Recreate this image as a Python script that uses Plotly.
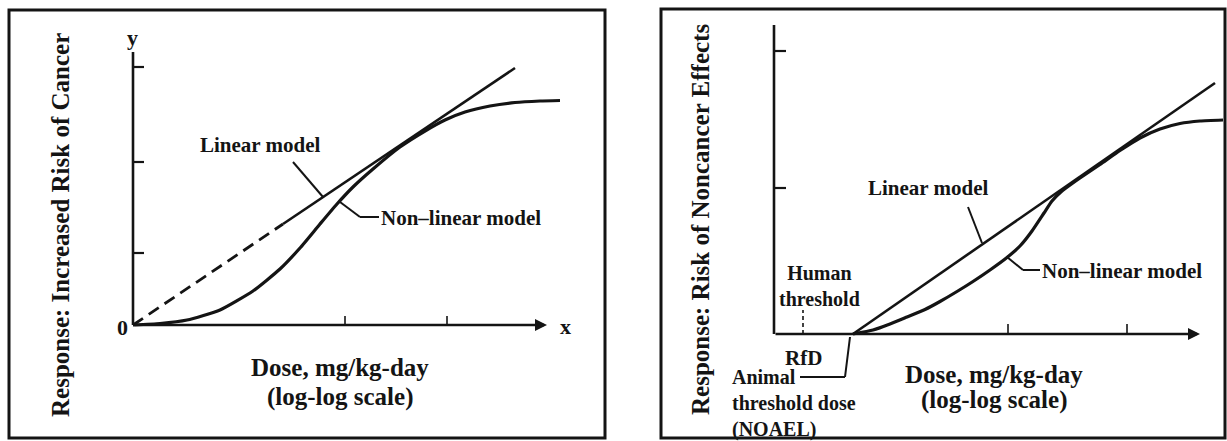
import plotly.graph_objects as go

W, H = 1227, 441

# ---------------- data (schematic units) ----------------
# Left panel: cancer (non-threshold) dose-response
c_lin_dash_x = [0.00, 1.50]
c_lin_dash_y = [0.00, 1.01]
c_lin_solid_x = [1.50, 3.82]
c_lin_solid_y = [1.01, 2.57]
c_nonlin_x = [0.00, 0.27, 0.54, 0.87, 1.20, 1.47, 1.67, 1.87, 2.04, 2.20,
              2.40, 2.67, 2.92, 3.12, 3.32, 3.57, 3.82, 4.07, 4.27]
c_nonlin_y = [0.000, 0.015, 0.05, 0.15, 0.34, 0.56, 0.77, 1.01, 1.21, 1.38,
              1.56, 1.78, 1.94, 2.05, 2.13, 2.19, 2.225, 2.24, 2.245]
c_ytick_vals = [0.72, 1.63, 2.58]
c_xtick_vals = [2.12, 3.14]
c_yaxis_top = 2.73
c_xaxis_end = 4.14

# Right panel: noncancer (threshold) dose-response
n_lin_x = [0.79, 4.41]
n_lin_y = [0.00, 2.51]
n_nonlin_x = [0.79, 0.99, 1.16, 1.33, 1.51, 1.66, 1.83, 1.99, 2.16, 2.33, 2.46, 2.58,
              2.70, 2.78, 2.88, 3.06, 3.26, 3.46, 3.66, 3.86, 4.06, 4.26, 4.49]
n_nonlin_y = [0.00, 0.04, 0.10, 0.17, 0.245, 0.325, 0.425, 0.525, 0.64, 0.765, 0.88, 1.03,
              1.21, 1.33, 1.43, 1.56, 1.695, 1.835, 1.96, 2.05, 2.105, 2.13, 2.14]
n_ytick_vals = [1.46, 2.83]
n_xtick_vals = [2.34, 3.53]
n_rfd_x = 0.29
n_noael_x = 0.79
n_yaxis_top = 3.09
n_xaxis_end = 4.26

# texts
c_ytitle = "Response: Increased Risk of Cancer"
n_ytitle = "Response: Risk of Noncancer Effects"
xtitle_1 = "Dose, mg/kg-day"
xtitle_2 = "(log-log scale)"
lin_label = "Linear model"
nonlin_label = "Non\u2013linear model"
human_label = "Human<br>threshold"
rfd_label = "RfD"
animal_label = "Animal<br>threshold dose<br>(NOAEL)"

# ---------------- layout helpers ----------------
INK = "#141414"
FONT = "Liberation Serif"
UNIT = 100.0  # pixels per schematic unit


def axes_for(ox, oy, left, right, top, bottom):
    xa = dict(domain=[left / W, right / W],
              range=[(left - ox) / UNIT, (right - ox) / UNIT],
              visible=False, fixedrange=True)
    ya = dict(domain=[1 - bottom / H, 1 - top / H],
              range=[(oy - bottom) / UNIT, (oy - top) / UNIT],
              visible=False, fixedrange=True)
    return xa, ya


xa1, ya1 = axes_for(133, 325, 12, 603, 12, 436)
xa2, ya2 = axes_for(774, 334, 664, 1224, 11, 436)
ya1["anchor"] = "x"
xa1["anchor"] = "y"
ya2["anchor"] = "x2"
xa2["anchor"] = "y2"

fig = go.Figure()


def line(x, y, xa, ya, w=3.0, dash=None, spline=False):
    ln = dict(color=INK, width=w, dash=dash)
    if spline:
        ln.update(shape="spline", smoothing=0.5)
    fig.add_trace(go.Scatter(x=x, y=y, mode="lines", xaxis=xa, yaxis=ya, line=ln,
                             hoverinfo="skip", showlegend=False))


# left panel curves
line(c_lin_dash_x, c_lin_dash_y, "x", "y", 2.8, "12px,7px")
line(c_lin_solid_x, c_lin_solid_y, "x", "y", 2.6)
line(c_nonlin_x, c_nonlin_y, "x", "y", 3.2, spline=True)
# right panel curves
line(n_lin_x, n_lin_y, "x2", "y2", 2.6)
line(n_nonlin_x, n_nonlin_y, "x2", "y2", 3.2, spline=True)

shapes = []
annotations = []


def seg(xr, yr, x0, y0, x1, y1, w=2.5, dash=None):
    shapes.append(dict(type="line", xref=xr, yref=yr, x0=x0, y0=y0, x1=x1, y1=y1,
                       line=dict(color=INK, width=w, dash=dash)))


def text(xr, yr, x, y, s, size, xanchor="center", angle=0, align="center"):
    annotations.append(dict(xref=xr, yref=yr, x=x, y=y, text=s, showarrow=False,
                            xanchor=xanchor, yanchor="middle", textangle=angle, align=align,
                            font=dict(family=FONT, size=size, color=INK, weight="bold")))


def arrow_axis(xr, yr, x_end):
    annotations.append(dict(xref=xr, yref=yr, axref=xr, ayref=yr, x=x_end, y=0, ax=0, ay=0,
                            text="", showarrow=True, arrowhead=2, arrowsize=1.0,
                            arrowwidth=2.4, arrowcolor=INK))


# ---- left panel axes ----
seg("x", "y", 0, 0, 0, c_yaxis_top, 2.6)
arrow_axis("x", "y", c_xaxis_end)
for v in c_ytick_vals:
    seg("x", "y", 0, v, 0.11, v, 2.2)
for v in c_xtick_vals:
    seg("x", "y", v, 0, v, 0.09, 1.6)
text("x", "y", -0.11, -0.02, "0", 22)
text("x", "y", 4.32, -0.01, "x", 22)
text("x", "y", -0.01, 2.88, "y", 22)
text("x", "y", -0.73, 1.00, c_ytitle, 25, angle=-90)
text("x", "y", 2.07, -0.42, xtitle_1, 25)
text("x", "y", 2.07, -0.72, xtitle_2, 25)
text("x", "y", 1.27, 1.80, lin_label, 21)
seg("x", "y", 1.60, 1.63, 1.90, 1.28, 2.0)
text("x", "y", 2.46, 1.07, nonlin_label, 21, xanchor="left")
seg("x", "y", 2.07, 1.23, 2.27, 1.08, 2.0)
seg("x", "y", 2.27, 1.08, 2.46, 1.08, 2.0)

# ---- right panel axes ----
seg("x2", "y2", 0, 0, 0, n_yaxis_top, 2.6)
arrow_axis("x2", "y2", n_xaxis_end)
for v in n_ytick_vals:
    seg("x2", "y2", 0, v, 0.12, v, 2.2)
for v in n_xtick_vals:
    seg("x2", "y2", v, 0, v, 0.10, 1.6)
seg("x2", "y2", n_rfd_x, 0.0, n_rfd_x, 0.24, 1.6, "4px,3px")
text("x2", "y2", -0.74, 1.14, n_ytitle, 25, angle=-90)
text("x2", "y2", 2.20, -0.40, xtitle_1, 25)
text("x2", "y2", 2.20, -0.66, xtitle_2, 25)
text("x2", "y2", 1.54, 1.46, lin_label, 21)
seg("x2", "y2", 1.94, 1.27, 2.08, 0.91, 2.0)
text("x2", "y2", 2.66, 0.63, nonlin_label, 21, xanchor="left")
seg("x2", "y2", 2.33, 0.77, 2.49, 0.64, 2.0)
seg("x2", "y2", 2.49, 0.64, 2.66, 0.64, 2.0)
text("x2", "y2", 0.45, 0.48, human_label, 20)
text("x2", "y2", n_rfd_x, -0.24, rfd_label, 21)
seg("x2", "y2", n_noael_x - 0.03, -0.03, n_noael_x - 0.08, -0.43, 2.0)
seg("x2", "y2", n_noael_x - 0.08, -0.43, 0.26, -0.43, 2.0)
text("x2", "y2", -0.44, -0.69, animal_label, 20, xanchor="left", align="left")

# ---- panel frames ----
for (x0, y0, x1, y1) in [(9, 10, 605, 438), (661, 9, 1225, 438)]:
    shapes.append(dict(type="rect", xref="paper", yref="paper",
                       x0=x0 / W, x1=x1 / W, y0=1 - y1 / H, y1=1 - y0 / H,
                       line=dict(color=INK, width=3)))

fig.update_layout(
    width=W, height=H, autosize=False,
    margin=dict(l=0, r=0, t=0, b=0, pad=0),
    paper_bgcolor="white", plot_bgcolor="rgba(0,0,0,0)",
    xaxis=xa1, yaxis=ya1, xaxis2=xa2, yaxis2=ya2,
    shapes=shapes, annotations=annotations, showlegend=False,
)

fig.write_html("out.html", config={"displayModeBar": False, "staticPlot": True},
               post_script="document.body.style.margin='0';document.body.style.overflow='hidden';")
